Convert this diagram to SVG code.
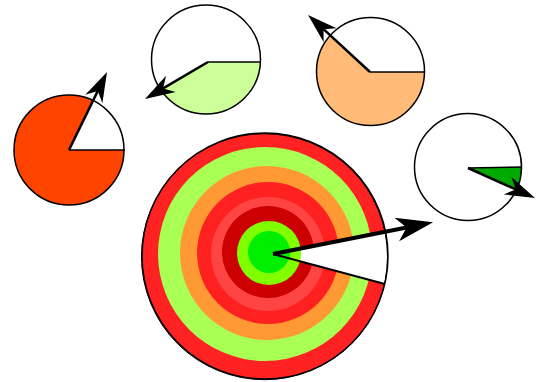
<svg xmlns="http://www.w3.org/2000/svg" width="536" height="382" viewBox="0 0 536 382">
<defs>
<style>
.ring{stroke:none}
.outline{fill:none;stroke:#000;stroke-width:1.5}
.hline{fill:none;stroke:#000;stroke-width:1.5}
.hand{fill:none;stroke:#000;stroke-width:2.5;marker-end:url(#ah-small)}
.bighand{fill:none;stroke:#000;stroke-width:4;marker-end:url(#ah-big)}
</style>
<marker id="ah-big" markerUnits="userSpaceOnUse" orient="auto" overflow="visible" refX="0" refY="0" markerWidth="1" markerHeight="1">
<path d="M0,0 L-10,-12 L27,0 L-10,12 Z" fill="#000"/>
</marker>
<marker id="ah-small" markerUnits="userSpaceOnUse" orient="auto" overflow="visible" refX="0" refY="0" markerWidth="1" markerHeight="1">
<path d="M0,0 L-9,-9.5 L21,0 L-9,9.5 Z" fill="#000"/>
</marker>
</defs>
<rect width="536" height="382" fill="#fff"/>

<g id="dial-left">
<circle cx="69" cy="150" r="55" fill="#fff"/>
<path d="M69,150 L124,150 A55,55 0 1 1 92.6,100.3 Z" fill="#ff4400"/>
<circle class="outline" cx="69" cy="150" r="55"/>
<path class="hline" d="M69,150 L125,150"/>
</g>

<g id="dial-top">
<circle cx="206" cy="59.5" r="54.5" fill="#fff"/>
<path d="M208,62 L260.4,62 A54.5,54.5 0 0 1 160.7,89.8 Z" fill="#ccff99"/>
<circle class="outline" cx="206" cy="59.5" r="54.5"/>
<path class="hline" d="M208,62 L260,62"/>
</g>

<g id="dial-topright">
<circle cx="370.5" cy="71.5" r="54" fill="#fff"/>
<path d="M370,72 L424.5,72 A54,54 0 1 1 330.3,35.4 Z" fill="#ffbb77"/>
<circle class="outline" cx="370.5" cy="71.5" r="54"/>
<path class="hline" d="M370,72 L425,72"/>
</g>

<g id="dial-right">
<circle cx="468" cy="167" r="53.5" fill="#fff"/>
<path d="M468,168 L521.5,167 A53.5,53.5 0 0 1 516.8,189.9 Z" fill="#00aa00"/>
<circle class="outline" cx="468" cy="167" r="53.5"/>
<path class="hline" d="M468,168 L521.5,167"/>
</g>

<g id="target">
<circle class="ring" cx="265" cy="256" r="123" fill="#ff2222"/>
<circle class="ring" cx="265" cy="254" r="107" fill="#aaff55"/>
<circle class="ring" cx="267" cy="253" r="87" fill="#ff9933"/>
<circle class="ring" cx="268" cy="253" r="71" fill="#ff2020"/>
<circle class="ring" cx="268" cy="254" r="57" fill="#ff4444"/>
<circle class="ring" cx="268" cy="252" r="46" fill="#cc0000"/>
<path d="M273,254 L385.4,231 A123,123 0 0 1 384.8,284 Z" fill="#fff"/>
<circle class="ring" cx="269" cy="253" r="32" fill="#80ff00"/>
<circle class="ring" cx="269" cy="252" r="21" fill="#00ee00"/>
<circle cx="264.5" cy="256.7" r="123" fill="none" stroke="#000" stroke-width="1"/>
<circle class="outline" cx="265" cy="256" r="123"/>
<path d="M273,254 L384.8,284" fill="none" stroke="#000" stroke-width="2"/>
</g>

<g id="connectors">
<path class="bighand" d="M273,254 L406.6,227.5"/>
<path class="hand" d="M69,150 L97.8,90.9"/>
<path class="hand" d="M208,62 L163.1,88.4"/>
<path class="hand" d="M370,72 L323.5,29.2"/>
<path class="hand" d="M468,168 L515.8,189.4"/>
</g>
</svg>
